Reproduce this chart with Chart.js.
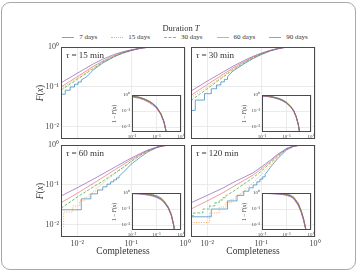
<!DOCTYPE html>
<html>
<head>
<meta charset="utf-8">
<script src="https://cdn.jsdelivr.net/npm/chart.js@4.4.1/dist/chart.umd.min.js"></script>
<style>
    html, body { margin: 0; padding: 0; background: #fff; }
    body { width: 358px; height: 273px; position: relative; overflow: hidden; font-family: 'Liberation Serif', serif; color: #333; }
    canvas { position: absolute; left: 0; top: 0; }
    .frame { position: absolute; left: 1px; top: 2px; width: 355px; height: 268px; box-sizing: border-box; border: 1px solid #a8a8a8; border-radius: 9px; }
    .lbl { position: absolute; white-space: nowrap; line-height: 1; }
    #legend { position: absolute; left: 6px; top: 33px; width: 358px; display: flex; justify-content: center; font-size: 7px; }
    #legend .item { display: flex; align-items: center; margin: 0 7px; }
    #legend .ln { display: inline-block; width: 12px; height: 0; margin-right: 5px; }
</style>
</head>
<body>
<div class="frame"></div>
<div id="legend"></div>
<canvas id="m15" width="358" height="273"></canvas>
<canvas id="m30" width="358" height="273"></canvas>
<canvas id="m60" width="358" height="273"></canvas>
<canvas id="m120" width="358" height="273"></canvas>
<canvas id="i15" width="358" height="273"></canvas>
<canvas id="i30" width="358" height="273"></canvas>
<canvas id="i60" width="358" height="273"></canvas>
<canvas id="i120" width="358" height="273"></canvas>
<script>
// --- Data ---
const durations = ['7 days', '15 days', '30 days', '60 days', '90 days'];
const taus = ['15 min', '30 min', '60 min', '120 min'];
const tickValues = [0.01, 0.1, 1];
const tickLabels = ['10⁻²', '10⁻¹', '10⁰'];

// F(x), [completeness, F]
// tau = 15 min
const t15_7d = [[.005,.066],[.006,.066],[.006,.083],[.0074,.083],[.0074,.10],[.0089,.10],[.0089,.117],[.0104,.117],[.0104,.133],[.0119,.133],[.0119,.15],[.015,.18],[.02,.27],[.03,.40],[.05,.58],[.07,.70],[.1,.815],[.15,.93],[.2,.977],[.25,.995],[.3,.9995],[1,1]];
const t15_15d = [[.005,.09],[.01,.165],[.02,.31],[.03,.43],[.05,.60],[.07,.72],[.1,.825],[.15,.93],[.2,.977],[.25,.995],[.3,.9995],[1,1]];
const t15_30d = [[.005,.083],[.01,.155],[.02,.29],[.03,.42],[.05,.59],[.07,.71],[.1,.82],[.15,.93],[.2,.977],[.25,.995],[.3,.9995],[1,1]];
const t15_60d = [[.005,.10],[.01,.18],[.02,.33],[.03,.45],[.05,.62],[.07,.73],[.1,.83],[.15,.935],[.2,.978],[.25,.995],[.3,.9995],[1,1]];
const t15_90d = [[.005,.127],[.01,.22],[.02,.38],[.03,.5],[.05,.66],[.07,.76],[.1,.85],[.15,.94],[.2,.98],[.25,.995],[.3,.9995],[1,1]];
// tau = 30 min
const t30_7d = [[.005,.026],[.006,.026],[.006,.047],[.0089,.047],[.0089,.068],[.0119,.068],[.0119,.09],[.0149,.09],[.0149,.112],[.0179,.112],[.0179,.134],[.0208,.134],[.0208,.155],[.0238,.155],[.0238,.18],[.03,.25],[.05,.39],[.07,.51],[.1,.645],[.15,.8],[.2,.895],[.25,.954],[.3,.984],[.35,.996],[.4,.9993],[1,1]];
const t30_15d = [[.005,.054],[.01,.10],[.02,.19],[.03,.28],[.05,.42],[.07,.54],[.1,.67],[.15,.815],[.2,.9],[.25,.956],[.3,.984],[.35,.996],[.4,.9993],[1,1]];
const t30_30d = [[.005,.046],[.01,.09],[.02,.18],[.03,.27],[.05,.41],[.07,.53],[.1,.66],[.15,.81],[.2,.9],[.25,.955],[.3,.984],[.35,.996],[.4,.9993],[1,1]];
const t30_60d = [[.005,.062],[.01,.115],[.02,.21],[.03,.30],[.05,.44],[.07,.555],[.1,.68],[.15,.82],[.2,.905],[.25,.958],[.3,.985],[.35,.996],[.4,.9993],[1,1]];
const t30_90d = [[.005,.079],[.01,.14],[.02,.24],[.03,.33],[.05,.47],[.07,.58],[.1,.70],[.15,.83],[.2,.91],[.25,.96],[.3,.985],[.35,.996],[.4,.9993],[1,1]];
// tau = 60 min
const t60_7d = [[.005,.024],[.0119,.024],[.0119,.045],[.0179,.045],[.0179,.06],[.0238,.06],[.0238,.075],[.0298,.075],[.0298,.09],[.0357,.09],[.0357,.105],[.0417,.105],[.0417,.12],[.0476,.12],[.0476,.135],[.0536,.135],[.0536,.15],[.0595,.15],[.0595,.165],[.07,.2],[.1,.33],[.15,.5],[.2,.66],[.3,.86],[.4,.95],[.5,.988],[.6,.998],[.7,.9998],[1,1]];
const t60_15d = [[.005,.009],[.0056,.009],[.0056,.021],[.0083,.021],[.0083,.03],[.0111,.03],[.0111,.04],[.0139,.04],[.0139,.05],[.0167,.05],[.0167,.06],[.0194,.06],[.0194,.07],[.0222,.07],[.0222,.08],[.03,.11],[.05,.19],[.07,.27],[.1,.38],[.15,.55],[.2,.69],[.3,.87],[.4,.955],[.5,.99],[.6,.998],[.7,.9998],[1,1]];
const t60_30d = [[.005,.026],[.01,.05],[.02,.09],[.03,.125],[.05,.2],[.07,.27],[.1,.39],[.15,.56],[.2,.7],[.3,.875],[.4,.956],[.5,.99],[.6,.998],[.7,.9998],[1,1]];
const t60_60d = [[.005,.036],[.01,.062],[.02,.11],[.03,.155],[.05,.24],[.07,.32],[.1,.43],[.15,.59],[.2,.72],[.3,.88],[.4,.958],[.5,.99],[.6,.998],[.7,.9998],[1,1]];
const t60_90d = [[.005,.053],[.01,.085],[.02,.14],[.03,.19],[.05,.28],[.07,.36],[.1,.47],[.15,.62],[.2,.74],[.3,.89],[.4,.96],[.5,.99],[.6,.998],[.7,.9998],[1,1]];
// tau = 120 min
const t120_7d = [[.005,.016],[.0119,.016],[.0119,.025],[.0238,.025],[.0238,.04],[.0357,.04],[.0357,.055],[.0476,.055],[.0476,.07],[.0595,.07],[.0595,.085],[.0714,.085],[.0714,.10],[.0833,.10],[.0833,.12],[.0952,.12],[.0952,.14],[.1071,.14],[.1071,.16],[.119,.16],[.119,.185],[.15,.28],[.2,.45],[.3,.76],[.4,.92],[.5,.975],[.6,.993],[.7,.999],[.8,.9999],[1,1]];
const t120_15d = [[.005,.0115],[.0111,.0115],[.0111,.02],[.0167,.02],[.0167,.028],[.0222,.028],[.0222,.036],[.0278,.036],[.0278,.044],[.0333,.044],[.0333,.052],[.0389,.052],[.0389,.06],[.0444,.06],[.0444,.068],[.05,.068],[.05,.076],[.07,.11],[.1,.18],[.15,.32],[.2,.49],[.3,.78],[.4,.925],[.5,.976],[.6,.993],[.7,.999],[.8,.9999],[1,1]];
const t120_30d = [[.005,.017],[.0056,.017],[.0056,.02],[.0083,.02],[.0083,.025],[.0111,.025],[.0111,.03],[.0139,.03],[.0139,.036],[.0167,.036],[.0167,.042],[.0194,.042],[.0194,.048],[.0222,.048],[.0222,.054],[.03,.068],[.05,.11],[.07,.15],[.1,.22],[.15,.36],[.2,.52],[.3,.8],[.4,.93],[.5,.978],[.6,.994],[.7,.999],[.8,.9999],[1,1]];
const t120_60d = [[.005,.025],[.01,.04],[.02,.065],[.03,.09],[.05,.135],[.07,.175],[.1,.25],[.15,.39],[.2,.55],[.3,.81],[.4,.935],[.5,.98],[.6,.994],[.7,.999],[.8,.9999],[1,1]];
const t120_90d = [[.005,.036],[.01,.055],[.02,.085],[.03,.115],[.05,.16],[.07,.2],[.1,.28],[.15,.42],[.2,.58],[.3,.83],[.4,.94],[.5,.98],[.6,.994],[.7,.999],[.8,.9999],[1,1]];

const panels = [
    { tau: taus[0], series: [t15_7d, t15_15d, t15_30d, t15_60d, t15_90d] },
    { tau: taus[1], series: [t30_7d, t30_15d, t30_30d, t30_60d, t30_90d] },
    { tau: taus[2], series: [t60_7d, t60_15d, t60_30d, t60_60d, t60_90d] },
    { tau: taus[3], series: [t120_7d, t120_15d, t120_30d, t120_60d, t120_90d] }
];

// --- Styles / layout ---
const W = 358, H = 273;
const colors = ['rgba(31,119,180,0.65)', 'rgba(255,127,14,0.65)', 'rgba(44,160,44,0.65)', 'rgba(214,39,40,0.45)', 'rgba(148,103,189,0.75)'];
const dashes = [[], [1, 1.5], [3, 1.5], [], []];
const cssDash = ['solid', 'dotted', 'dashed', 'solid', 'solid'];
const boxes = [
    { l: 61, t: 47, r: 185, b: 139 },
    { l: 191, t: 47, r: 315, b: 139 },
    { l: 61, t: 145, r: 185, b: 237 },
    { l: 191, t: 145, r: 315, b: 237 }
];

const framePlugin = {
    id: 'frame',
    beforeDraw(chart, args, opts) {
        if (!opts.fill) return;
        const { ctx, chartArea: a } = chart;
        ctx.save();
        ctx.fillStyle = '#fff';
        ctx.fillRect(a.left, a.top, a.width, a.height);
        ctx.restore();
    },
    afterDatasetsDraw(chart) {
        const { ctx, chartArea: a } = chart;
        ctx.save();
        ctx.strokeStyle = '#4a4a4a';
        ctx.lineWidth = 1;
        ctx.strokeRect(a.left + 0.5, a.top + 0.5, a.width - 1, a.height - 1);
        ctx.restore();
    }
};

function logAxis(min, showTicks, size, fontSize) {
    return {
        type: 'logarithmic', min: min, max: 1,
        afterBuildTicks: s => { s.ticks = tickValues.map(v => ({ value: v })); },
        afterFit: s => { if (s.isHorizontal()) s.height = size; else s.width = size; },
        grid: { color: '#e6e6e6', lineWidth: 0.8, drawTicks: false },
        border: { display: false },
        ticks: {
            display: showTicks, padding: 2, autoSkip: false, maxRotation: 0, color: '#444',
            font: { family: 'Liberation Serif', size: fontSize },
            callback: v => tickLabels[tickValues.indexOf(v)]
        }
    };
}

function makeChart(id, datasets, box, xMin, showX, showY, ax, fontSize, inset) {
    const wy = showY ? ax : 0, hx = showX ? ax - (inset ? 7 : 8) : 0;
    new Chart(document.getElementById(id), {
        type: 'line',
        data: { datasets },
        options: {
            responsive: false, animation: false, devicePixelRatio: 1,
            layout: { padding: { left: box.l - wy, top: box.t, right: W - box.r, bottom: H - box.b - hx } },
            plugins: { legend: { display: false }, tooltip: { enabled: false }, frame: { fill: inset } },
            elements: { point: { radius: 0 }, line: { tension: 0 } },
            scales: {
                x: logAxis(xMin, showX, hx, fontSize),
                y: logAxis(0.005, showY, wy, fontSize)
            }
        },
        plugins: [framePlugin]
    });
}

function label(html, x, y, size, rotate, centered) {
    const d = document.createElement('div');
    d.className = 'lbl';
    d.innerHTML = html;
    d.style.fontSize = size + 'px';
    d.style.left = x + 'px';
    d.style.top = y + 'px';
    if (centered) d.style.transform = 'translate(-50%, -50%)' + (rotate ? ' rotate(-90deg)' : '');
    document.body.appendChild(d);
}

panels.forEach((p, k) => {
    const box = boxes[k];
    const main = p.series.map((s, i) => ({
        label: durations[i], data: s.map(([x, f]) => ({ x: x, y: f })),
        borderColor: colors[i], borderWidth: 1, borderDash: dashes[i], order: 4 - i
    }));
    makeChart('m' + p.tau.split(' ')[0], main, box, 0.005, k >= 2, k % 2 === 0, 20, 8, false);

    const ib = { l: box.l + 71, t: box.t + 48, r: box.l + 120, b: box.t + 85 };
    const inset = p.series.map((s, i) => ({
        label: durations[i], data: s.filter(([x, f]) => f < 1).map(([x, f]) => ({ x: x, y: 1 - f })),
        borderColor: colors[i], borderWidth: 1, borderDash: [], order: 4 - i
    }));
    makeChart('i' + p.tau.split(' ')[0], inset, ib, 0.01, true, true, 14, 5, true);

    label(`<i>τ</i> = ${p.tau}`, box.l + 5, box.t + 4, 9, false, false);
    if (k % 2 === 0) label('<i>F</i>(<i>x</i>)', 41, (box.t + box.b) / 2, 9.5, true, true);
    if (k >= 2) label('Completeness', (box.l + box.r) / 2, 252, 9.5, false, true);
    label('1 − <i>F</i>(<i>x</i>)', ib.l - 17, (ib.t + ib.b) / 2, 5.5, true, true);
});

// --- Legend ---
label('Duration <i>T</i>', 181, 28, 8.5, false, true);
const legend = document.getElementById('legend');
durations.forEach((d, i) => {
    const item = document.createElement('span');
    item.className = 'item';
    const ln = document.createElement('span');
    ln.className = 'ln';
    ln.style.borderTop = `1.2px ${cssDash[i]} ${colors[i]}`;
    item.appendChild(ln);
    item.appendChild(document.createTextNode(d));
    legend.appendChild(item);
});
</script>
</body>
</html>
